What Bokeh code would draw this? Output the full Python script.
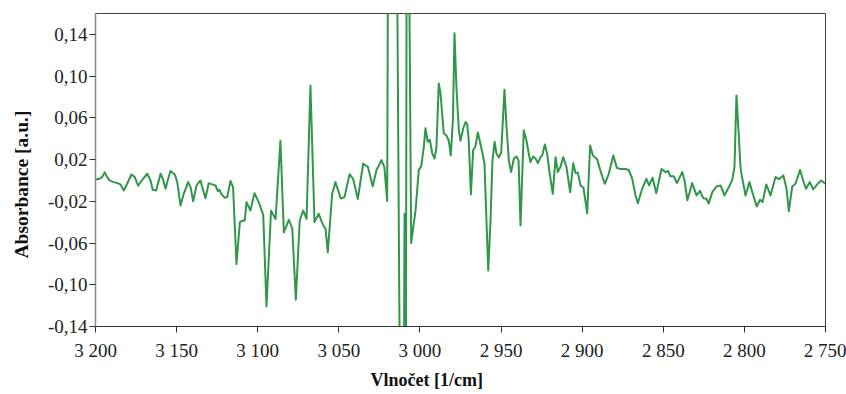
from bokeh.plotting import figure
from bokeh.models import Range1d, FixedTicker, CustomJSTickFormatter, Title
from bokeh.embed import file_html
from bokeh.resources import INLINE

# Wavenumber [1/cm] and absorbance [a.u.]
wavenumber = [
    3200.0, 3197.5, 3195.9, 3194.3, 3192.8, 3191.4, 3188.7, 3186.6, 3184.6, 3182.6,
    3180.5, 3177.8, 3175.8, 3173.7, 3171.2, 3168.1, 3166.1, 3164.7, 3162.6, 3159.9,
    3158.5, 3156.8, 3155.2, 3153.8, 3151.1, 3149.6, 3147.6, 3145.6, 3142.9, 3141.4,
    3139.8, 3137.7, 3135.3, 3133.9, 3132.2, 3130.2, 3128.1, 3126.0, 3124.6, 3123.6,
    3122.3, 3120.3, 3118.8, 3116.8, 3115.2, 3114.1, 3113.1, 3111.0, 3109.0, 3108.0,
    3106.9, 3104.5, 3102.0, 3099.3, 3096.6, 3094.6, 3091.8, 3089.0, 3086.0, 3083.9,
    3080.8, 3078.7, 3076.5, 3074.1, 3072.0, 3069.9, 3067.5, 3065.0, 3062.4, 3059.6,
    3058.2, 3056.8, 3054.1, 3052.1, 3048.8, 3046.5, 3043.4, 3041.1, 3038.3, 3035.0,
    3032.1, 3029.1, 3026.8, 3023.7, 3021.9, 3020.2, 3019.1, 3015.1, 3011.1, 3010.1,
    3009.5, 3008.9, 3008.0, 3007.1, 3005.4, 3002.7, 3000.7, 2999.2, 2997.6, 2996.6,
    2995.2, 2993.9, 2992.4, 2991.0, 2989.8, 2988.4, 2987.3, 2985.3, 2983.6, 2982.2,
    2981.0, 2979.7, 2978.7, 2977.5, 2976.0, 2975.0, 2973.3, 2971.9, 2970.9, 2969.9,
    2968.6, 2967.2, 2965.9, 2964.3, 2962.7, 2961.6, 2960.2, 2959.0, 2957.9, 2956.5,
    2955.3, 2954.0, 2952.8, 2951.4, 2949.9, 2947.9, 2946.6, 2945.2, 2943.8, 2942.1,
    2940.5, 2939.2, 2938.0, 2936.0, 2934.3, 2932.9, 2931.9, 2930.2, 2928.8, 2927.3,
    2925.7, 2924.6, 2923.0, 2921.6, 2920.0, 2918.1, 2916.4, 2915.0, 2913.4, 2911.7,
    2909.7, 2907.4, 2905.5, 2904.1, 2902.7, 2901.0, 2899.2, 2896.9, 2895.1, 2893.4,
    2890.7, 2888.7, 2886.1, 2883.6, 2880.8, 2878.6, 2876.4, 2873.3, 2871.3, 2869.2,
    2867.1, 2865.7, 2863.0, 2860.4, 2858.7, 2856.6, 2854.3, 2851.1, 2848.6, 2847.0,
    2845.6, 2843.5, 2841.6, 2838.3, 2836.9, 2835.1, 2832.2, 2829.5, 2827.4, 2825.4,
    2823.4, 2822.0, 2819.8, 2817.2, 2814.7, 2812.3, 2809.6, 2807.5, 2806.1, 2804.9,
    2803.5, 2802.5, 2802.0, 2799.3, 2796.9, 2794.6, 2792.4, 2790.4, 2788.8, 2786.5,
    2783.9, 2780.8, 2778.7, 2776.0, 2774.0, 2772.6, 2770.5, 2768.5, 2765.7, 2763.4,
    2762.0, 2759.7, 2757.6, 2755.1, 2752.7, 2750.0,
]
absorbance = [
    0.0009, 0.0016, 0.0032, 0.0077, 0.0032, 0.0000, -0.0016, -0.0026, -0.0038, -0.0096,
    -0.0032, 0.0057, 0.0032, -0.0051, 0.0006, 0.0064, 0.0000, -0.0090, -0.0096, 0.0064,
    0.0016, -0.0080, 0.0016, 0.0090, 0.0057, -0.0016, -0.0240, -0.0128, -0.0016, -0.0064,
    -0.0199, -0.0048, 0.0000, -0.0080, -0.0170, -0.0026, -0.0038, -0.0048, -0.0103, -0.0090,
    -0.0134, -0.0166, -0.0160, -0.0005, -0.0064, -0.0448, -0.0800, -0.0400, -0.0384, -0.0384,
    -0.0208, -0.0288, -0.0122, -0.0210, -0.0330, -0.1208, -0.0290, -0.0370, 0.0380, -0.0496,
    -0.0377, -0.0463, -0.1144, -0.0384, -0.0288, -0.0368, 0.0910, -0.0400, -0.0320, -0.0432,
    -0.0463, -0.0688, -0.0128, -0.0016, -0.0173, -0.0160, 0.0060, 0.0012, -0.0178, 0.0160,
    0.0130, -0.0055, 0.0099, 0.0195, 0.0127, -0.0197, 0.5000, 0.4500, -0.5000, -0.3000,
    -0.0320, -0.4000, 0.4000, 0.3000, -0.0600, -0.0285, 0.0099, 0.0137, 0.0320, 0.0500,
    0.0370, 0.0390, 0.0260, 0.0210, 0.0320, 0.0930, 0.0830, 0.0450, 0.0430, 0.0380,
    0.0240, 0.0575, 0.1410, 0.0890, 0.0480, 0.0380, 0.0500, 0.0560, 0.0540, 0.0380,
    -0.0134, 0.0290, 0.0320, 0.0460, 0.0350, 0.0270, 0.0160, -0.0384, -0.0863, -0.0384,
    0.0190, 0.0370, 0.0256, 0.0220, 0.0270, 0.0870, 0.0510, 0.0190, 0.0080, 0.0210,
    0.0230, 0.0190, -0.0432, 0.0480, 0.0380, 0.0256, 0.0175, 0.0230, 0.0210, 0.0166,
    0.0223, 0.0240, 0.0345, 0.0256, 0.0064, -0.0128, 0.0223, 0.0080, 0.0130, 0.0223,
    0.0130, -0.0112, 0.0166, 0.0070, 0.0075, -0.0048, -0.0070, -0.0314, 0.0335, 0.0240,
    0.0200, 0.0090, -0.0032, 0.0064, 0.0240, 0.0120, 0.0110, 0.0110, 0.0100, 0.0020,
    -0.0144, -0.0218, -0.0080, 0.0016, -0.0048, 0.0026, -0.0122, 0.0110, 0.0080, 0.0090,
    0.0040, 0.0040, -0.0026, 0.0080, 0.0000, -0.0190, -0.0026, -0.0144, -0.0100, -0.0170,
    -0.0176, -0.0222, -0.0112, -0.0058, -0.0048, -0.0144, -0.0064, 0.0006, 0.0127, 0.0815,
    0.0450, 0.0150, 0.0080, -0.0144, -0.0016, -0.0140, -0.0250, -0.0185, -0.0208, -0.0038,
    -0.0144, 0.0032, 0.0012, 0.0048, -0.0080, -0.0295, -0.0058, -0.0032, 0.0100, -0.0020,
    -0.0080, -0.0016, -0.0085, -0.0038, 0.0000, -0.0032,
]
x_ticks = [3200, 3150, 3100, 3050, 3000, 2950, 2900, 2850, 2800, 2750]
y_ticks = [-0.14, -0.10, -0.06, -0.02, 0.02, 0.06, 0.10, 0.14]
x_title = "Vlnočet [1/cm]"
y_title = "Absorbance [a.u.]"

FONT = "Liberation Serif"

p = figure(width=846, height=394, output_backend="svg", toolbar_location=None,
           x_range=Range1d(3200, 2750), y_range=Range1d(-0.14, 0.16),
           min_border_left=95, min_border_right=21, min_border_top=13,
           min_border_bottom=68)
p.background_fill_color = "white"
p.border_fill_color = "white"
p.outline_line_color = "#404040"
p.outline_line_width = 1
p.xgrid.visible = False
p.ygrid.visible = False

p.line(wavenumber, absorbance, line_color="#30964a", line_width=2, line_join="round")

p.xaxis.ticker = FixedTicker(ticks=x_ticks)
p.yaxis.ticker = FixedTicker(ticks=y_ticks)
p.xaxis.formatter = CustomJSTickFormatter(code="""
var s = Math.round(tick).toString();
return s.slice(0, s.length - 3) + ' ' + s.slice(-3);
""")
p.yaxis.formatter = CustomJSTickFormatter(code="return tick.toFixed(2).replace('.', ',');")

for axes in (p.xaxis, p.yaxis):
    axes.major_tick_in = 0
    axes.major_tick_out = 6
    axes.minor_tick_in = 0
    axes.minor_tick_out = 0
    axes.major_tick_line_color = "#333333"
    axes.major_label_text_font = FONT
    axes.major_label_text_font_size = "19px"
    axes.major_label_text_color = "#222222"
p.xaxis.axis_line_color = "#333333"
p.yaxis.axis_line_color = "#8a8a8a"
p.yaxis.axis_line_width = 1.5
p.xaxis.major_label_standoff = 7
p.yaxis.major_label_standoff = 2

p.add_layout(Title(text=x_title, align="left", offset=275, standoff=8,
                   vertical_align="bottom",
                   text_font=FONT, text_font_style="bold", text_font_size="18px",
                   text_color="#111111"), "below")
p.add_layout(Title(text=y_title, align="left", offset=68, standoff=21,
                   vertical_align="top",
                   text_font=FONT, text_font_style="bold", text_font_size="19.5px",
                   text_color="#111111"), "left")

open("out.html", "w").write(file_html(p, INLINE))
